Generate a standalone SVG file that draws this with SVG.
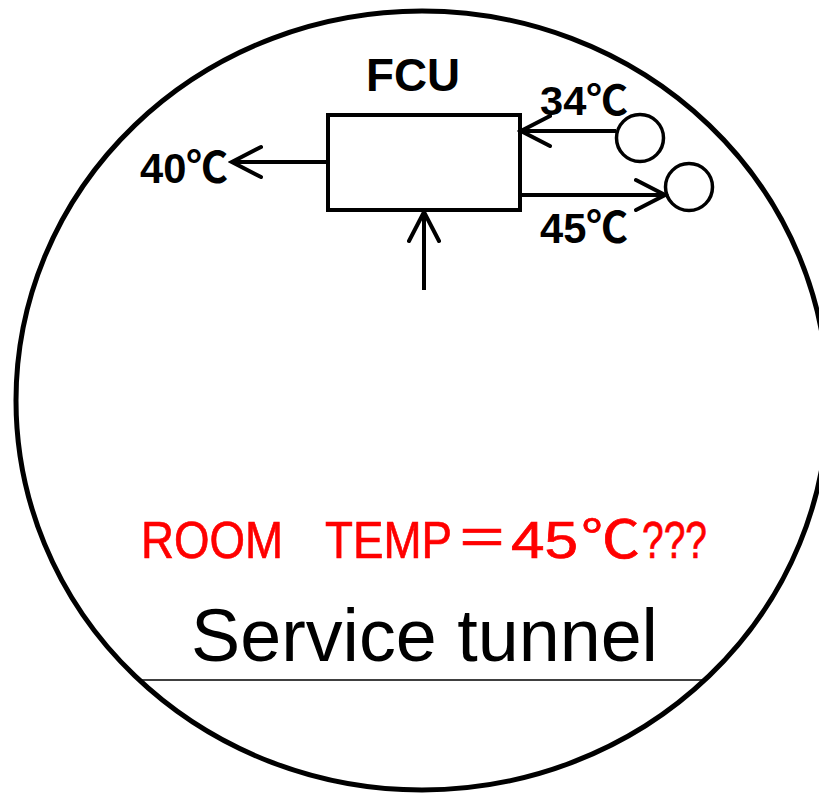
<svg xmlns="http://www.w3.org/2000/svg" width="819" height="794" viewBox="0 0 819 794">
<style>
.shape{fill:none;stroke:#000;}
.lbl{font-family:"Liberation Sans","Noto Sans CJK JP",sans-serif;font-weight:bold;fill:#000;}
.red{font-family:"Liberation Sans","Noto Sans CJK JP",sans-serif;fill:#FF0000;stroke:#FF0000;stroke-width:0.7;}
.conn{fill:none;stroke:#000;stroke-width:4;}
</style>
<defs>
<marker id="chev" viewBox="-34 -19 38 38" markerWidth="38" markerHeight="38" refX="0" refY="0" orient="auto" markerUnits="userSpaceOnUse">
<path d="M-29,-15 L0,0 L-29,15" fill="none" stroke="#000" stroke-width="4" stroke-linecap="round"/>
</marker>
</defs>
<rect width="819" height="794" fill="#fff"/>
<g id="tunnel">
<ellipse class="shape" cx="422" cy="400.5" rx="406" ry="389.5" stroke-width="5"/>
<line x1="139" y1="680" x2="706" y2="680" stroke="#000" stroke-width="1.5"/>
<text x="191" y="661" font-family="Liberation Sans, sans-serif" font-size="75" textLength="467" lengthAdjust="spacingAndGlyphs" fill="#000">Service tunnel</text>
</g>
<g id="fcu">
<rect class="shape" x="328" y="115" width="192" height="95" stroke-width="4"/>
<text class="lbl" x="366" y="91" font-size="47" textLength="94" lengthAdjust="spacingAndGlyphs">FCU</text>
</g>
<g id="pipe-in">
<circle class="shape" cx="640" cy="138" r="23.5" stroke-width="3.5"/>
</g>
<g id="pipe-out">
<circle class="shape" cx="689" cy="187" r="23.5" stroke-width="3.5"/>
</g>
<g id="connectors">
<path class="conn" d="M328,162 L232,162" marker-end="url(#chev)"/>
<path class="conn" d="M424,290 L424,212" marker-end="url(#chev)"/>
<path class="conn" d="M616,131 L521,131" marker-end="url(#chev)"/>
<path class="conn" d="M520,195 L665,195" marker-end="url(#chev)"/>
</g>
<g id="labels">
<text class="lbl" x="140" y="183" font-size="43" textLength="88" lengthAdjust="spacingAndGlyphs">40℃</text>
<text class="lbl" x="540" y="115" font-size="41" textLength="88" lengthAdjust="spacingAndGlyphs">34℃</text>
<text class="lbl" x="540" y="243" font-size="43" textLength="88" lengthAdjust="spacingAndGlyphs">45℃</text>
</g>
<g id="room-temp">
<text class="red" y="558" font-size="52"><tspan x="141" textLength="142" lengthAdjust="spacingAndGlyphs">ROOM</tspan><tspan x="284" font-size="40">　</tspan><tspan x="325" textLength="127" lengthAdjust="spacingAndGlyphs">TEMP</tspan><tspan x="456" font-size="54" textLength="52" lengthAdjust="spacingAndGlyphs">＝</tspan><tspan x="511" textLength="67" lengthAdjust="spacingAndGlyphs">45</tspan><tspan x="581" textLength="59" lengthAdjust="spacingAndGlyphs">℃</tspan><tspan x="642" textLength="65" lengthAdjust="spacingAndGlyphs">???</tspan></text>
</g>
</svg>
